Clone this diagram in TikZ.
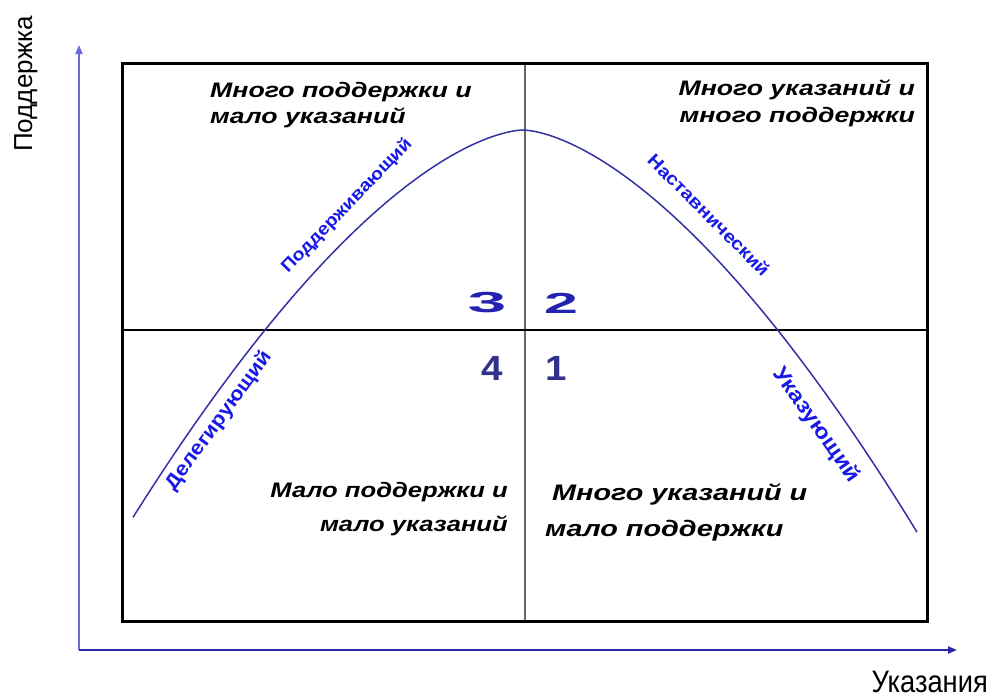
\documentclass[tikz,border=0pt]{standalone}
\usepackage{fontspec}
\usepackage{graphicx}
\setmainfont{Liberation Sans}
\usetikzlibrary{arrows.meta}
\definecolor{curveblue}{RGB}{50,50,165}
\definecolor{labelblue}{RGB}{25,25,230}
\definecolor{numnavy}{RGB}{50,50,140}
\definecolor{numblue}{RGB}{35,35,175}
\definecolor{yaxiscol}{RGB}{105,105,215}
\definecolor{xaxiscol}{RGB}{40,40,165}
\newcommand\stretchtxt[2]{\scalebox{#1}[1]{#2}}
\tikzset{
  quadtop/.style={font=\bfseries\itshape\fontsize{21}{24}\selectfont, inner sep=0pt},
  quadlow/.style={font=\bfseries\itshape\fontsize{21}{25}\selectfont, inner sep=0pt},
  quadlowr/.style={font=\bfseries\itshape\fontsize{22.5}{26}\selectfont, inner sep=0pt},
  curvelabel/.style={font=\bfseries\fontsize{#1}{#1}\selectfont, text=labelblue, inner sep=0pt},
  bignum/.style={font=\bfseries\fontsize{35}{35}\selectfont, text=numnavy, inner sep=0pt},
  flatnum/.style={font=\bfseries\fontsize{29}{29}\selectfont, text=numblue, inner sep=0pt},
  axislabel/.style={font=\fontsize{#1}{#1}\selectfont, inner sep=0pt},
  frame/.style={line width=3pt, black},
  curve/.style={line width=1.5pt, curveblue},
}
\begin{document}
\begin{tikzpicture}[x=1pt,y=-1pt]
\useasboundingbox (0,0) rectangle (992,699);
% axes
\coordinate (O) at (79,650);
\coordinate (ytip) at (79,45);
\coordinate (xtip) at (957,650);
\draw[yaxiscol, line width=2pt, -{Triangle[length=9pt,width=7pt]}] (O) -- (ytip);
\draw[xaxiscol, line width=2pt, -{Triangle[length=9pt,width=7pt]}] (O) -- (xtip);
\node[axislabel=26, rotate=90, anchor=base] (ylab) at (32,84) {Поддержка};
\node[axislabel=31, anchor=base east] (xlab) at (988,692) {\stretchtxt{0.88}{Указания}};
% frame and dividers
\coordinate (tl) at (122,63);
\coordinate (br) at (927,621);
\coordinate (vt) at (525,63);
\coordinate (vb) at (525,621);
\coordinate (hl) at (122,330);
\coordinate (hr) at (927,330);
\draw[gray!80!black, line width=2pt] (vt) -- (vb);
\draw[black, line width=1.3pt] (hl) -- (hr);
\draw[frame] (tl) rectangle (br);
% curve
\draw[curve] plot[domain=-390:394, samples=120, smooth]
  ({523+\x},{130+(0.0277+0.0006*(\x>0))*abs(\x)^1.6});
% curve labels
\node[curvelabel=20, rotate=54] (deleg) at (219,421) {\stretchtxt{1.1}{Делегирующий}};
\node[curvelabel=17.5, rotate=46] (podd) at (347,206) {\stretchtxt{1.12}{Поддерживающий}};
\node[curvelabel=18, rotate=-45] (nast) at (709,215) {\stretchtxt{1.12}{Наставнический}};
\node[curvelabel=21.5, rotate=-55] (ukaz) at (816,425) {\stretchtxt{1.12}{Указующий}};
% numbers
\node[flatnum] (n3) at (487,303) {\stretchtxt{2.4}{3}};
\node[flatnum] (n2) at (561,303) {\stretchtxt{2.1}{2}};
\node[bignum] (n4) at (492,368) {\stretchtxt{1.1}{4}};
\node[bignum] (n1) at (556,368) {\stretchtxt{1.1}{1}};
% quadrant texts
\node[quadtop, anchor=base west] (tl1) at (210,97) {\stretchtxt{1.27}{Много поддержки и}};
\node[quadtop, anchor=base west] (tl2) at (210,123) {\stretchtxt{1.27}{мало указаний}};
\node[quadtop, anchor=base east] (tr1) at (915,95) {\stretchtxt{1.27}{Много указаний и}};
\node[quadtop, anchor=base east] (tr2) at (915,122) {\stretchtxt{1.27}{много поддержки}};
\node[quadlow, anchor=base east] (bl1) at (508,497) {\stretchtxt{1.22}{Мало поддержки и}};
\node[quadlow, anchor=base east] (bl2) at (508,531) {\stretchtxt{1.22}{мало указаний}};
\node[quadlowr, anchor=base west] (br1) at (552,500) {\stretchtxt{1.28}{Много указаний и}};
\node[quadlowr, anchor=base west] (br2) at (545,536) {\stretchtxt{1.28}{мало поддержки}};
\end{tikzpicture}
\end{document}
